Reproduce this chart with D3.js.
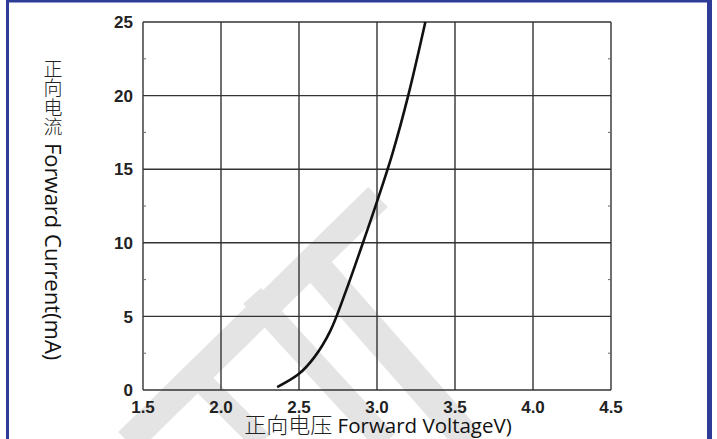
<!DOCTYPE html>
<html lang="zh">
<head>
<meta charset="UTF-8">
<title>Forward Current vs Forward Voltage</title>
<style>
    body { margin: 0; padding: 0; background: #fff; }
    svg { display: block; }
    .tick-label { font-family: "Liberation Sans", Arial, sans-serif; font-weight: bold; font-size: 17px; fill: #222; }
    .title-cjk { font-family: "Noto Sans CJK SC", sans-serif; font-weight: 300; fill: #222; }
    .title-en { font-family: "Open Sans", sans-serif; fill: #111; }
</style>
</head>
<body>
<div id="chart"></div>
<script src="https://d3js.org/d3.v7.min.js"></script>
<script>
    // curve (V, mA)
    const voltage = [2.36, 2.50, 2.60, 2.70, 2.80, 2.90, 3.00, 3.10, 3.20, 3.31];
    const current = [0.2, 1.1, 2.25, 4.0, 6.7, 9.7, 12.8, 16.1, 20.0, 25.0];

    const xTicks = [1.5, 2.0, 2.5, 3.0, 3.5, 4.0, 4.5];
    const yTicks = [0, 5, 10, 15, 20, 25];
    const yMinorTicks = [2.5, 7.5, 12.5, 17.5, 22.5];

    const yTitleCjk = ["正", "向", "电", "流"];
    const yTitleEn = "Forward Current(mA)";
    const xTitleCjk = "正向电压";
    const xTitleEn = " Forward VoltageV)";

    const width = 717;
    const height = 439;
    const margin = { top: 22, right: 106, bottom: 49, left: 143 };

    const svg = d3.select("#chart")
        .append("svg")
        .attr("width", width)
        .attr("height", height);

    // blue frame
    const frameColor = "#2e3b97";
    svg.append("rect").attr("x", 6).attr("y", 0).attr("width", 706).attr("height", 2.5).attr("fill", frameColor);
    svg.append("rect").attr("x", 6).attr("y", 0).attr("width", 3).attr("height", height).attr("fill", frameColor);
    svg.append("rect").attr("x", 707).attr("y", 0).attr("width", 5).attr("height", height).attr("fill", frameColor);

    // faint watermark bands (decoration, not data)
    const watermark = [
        [[128, 442], [378, 197], 28],
        [[186, 366], [262, 442], 22],
        [[252, 296], [386, 442], 24],
        [[312, 262], [470, 442], 30]
    ];
    svg.append("g")
        .selectAll("line")
        .data(watermark)
        .enter()
        .append("line")
        .attr("x1", d => d[0][0]).attr("y1", d => d[0][1])
        .attr("x2", d => d[1][0]).attr("y2", d => d[1][1])
        .attr("stroke", "#e4e4e4")
        .attr("stroke-width", d => d[2]);

    const xScale = d3.scaleLinear().domain([1.5, 4.5]).range([margin.left, width - margin.right]);
    const yScale = d3.scaleLinear().domain([0, 25]).range([height - margin.bottom, margin.top]);

    // grid
    const grid = svg.append("g").attr("stroke", "#333").attr("stroke-width", 1.4);
    grid.selectAll(".vx")
        .data(xTicks)
        .enter()
        .append("line")
        .attr("x1", d => xScale(d)).attr("x2", d => xScale(d))
        .attr("y1", yScale(0)).attr("y2", yScale(25));
    grid.selectAll(".hy")
        .data(yTicks)
        .enter()
        .append("line")
        .attr("y1", d => yScale(d)).attr("y2", d => yScale(d))
        .attr("x1", xScale(1.5)).attr("x2", xScale(4.5));

    // small minor ticks on left and right edges
    const minor = svg.append("g").attr("stroke", "#666").attr("stroke-width", 1);
    minor.selectAll(".ml")
        .data(yMinorTicks)
        .enter()
        .append("line")
        .attr("x1", xScale(1.5)).attr("x2", xScale(1.5) + 3)
        .attr("y1", d => yScale(d)).attr("y2", d => yScale(d));
    minor.selectAll(".mr")
        .data(yMinorTicks)
        .enter()
        .append("line")
        .attr("x1", xScale(4.5)).attr("x2", xScale(4.5) - 3)
        .attr("y1", d => yScale(d)).attr("y2", d => yScale(d));

    // tick labels
    svg.append("g")
        .selectAll("text")
        .data(yTicks)
        .enter()
        .append("text")
        .attr("class", "tick-label")
        .attr("x", xScale(1.5) - 10)
        .attr("y", d => yScale(d))
        .attr("dy", "0.36em")
        .attr("text-anchor", "end")
        .text(d => d);

    svg.append("g")
        .selectAll("text")
        .data(xTicks)
        .enter()
        .append("text")
        .attr("class", "tick-label")
        .attr("x", d => xScale(d))
        .attr("y", yScale(0) + 23)
        .attr("text-anchor", "middle")
        .text(d => d.toFixed(1));

    // curve
    const points = voltage.map((v, i) => ({ x: v, y: current[i] }));
    const line = d3.line()
        .x(d => xScale(d.x))
        .y(d => yScale(d.y))
        .curve(d3.curveCatmullRom.alpha(0.5));
    svg.append("path")
        .datum(points)
        .attr("d", line)
        .attr("fill", "none")
        .attr("stroke", "#111")
        .attr("stroke-width", 2.6);

    // x axis title
    const xTitle = svg.append("text")
        .attr("x", 378)
        .attr("y", 433)
        .attr("text-anchor", "middle");
    xTitle.append("tspan").attr("class", "title-cjk").attr("font-size", 22).text(xTitleCjk);
    xTitle.append("tspan").attr("class", "title-en").attr("font-size", 20.5).text(xTitleEn);

    // y axis title: upright CJK characters, then rotated English
    svg.append("g")
        .selectAll("text")
        .data(yTitleCjk)
        .enter()
        .append("text")
        .attr("class", "title-cjk")
        .attr("font-size", 19)
        .attr("x", 53)
        .attr("y", (d, i) => 69 + i * 19.5)
        .attr("dy", "0.35em")
        .attr("text-anchor", "middle")
        .text(d => d);

    svg.append("text")
        .attr("class", "title-en")
        .attr("font-size", 22)
        .attr("transform", "translate(53,143) rotate(90)")
        .attr("dy", "0.35em")
        .text(yTitleEn);
</script>
</body>
</html>
